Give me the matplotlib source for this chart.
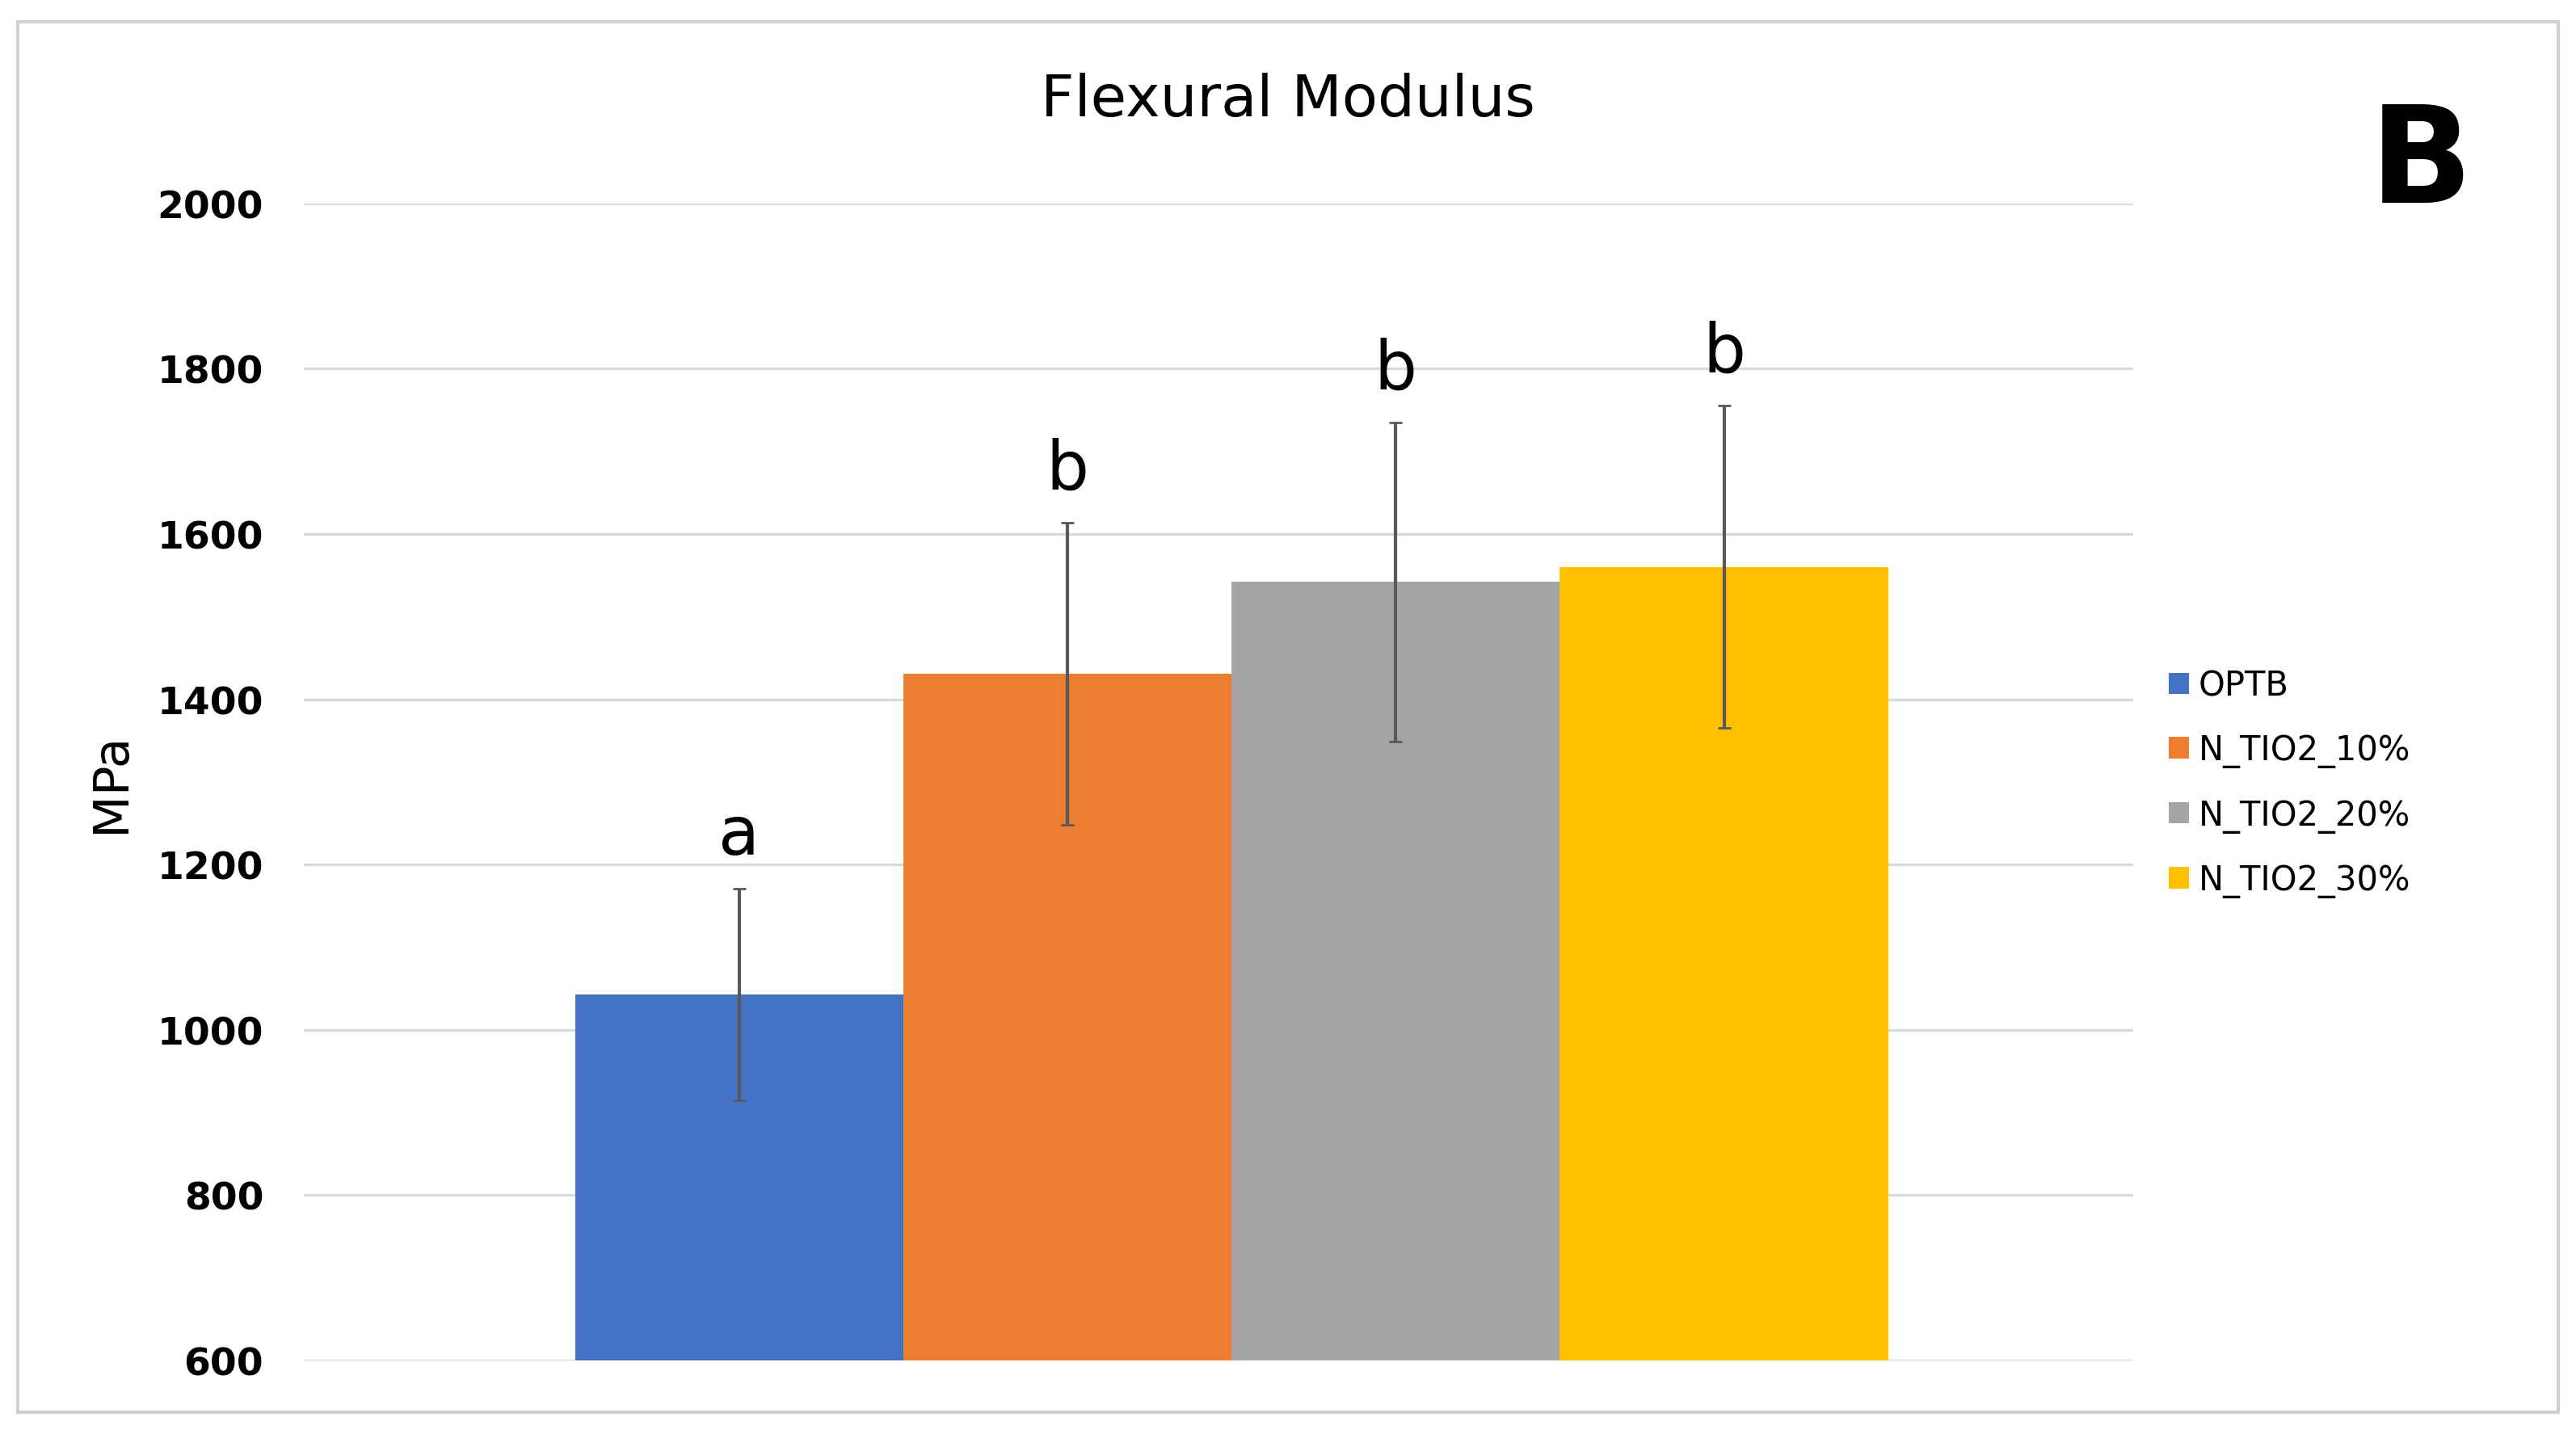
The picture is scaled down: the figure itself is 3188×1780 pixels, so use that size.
import matplotlib.pyplot as plt
from matplotlib.patches import Rectangle

labels = ["OPTB", "N_TIO2_10%", "N_TIO2_20%", "N_TIO2_30%"]
values = [1043, 1431, 1542, 1560]
errors = [128, 183, 193, 195]
letters = ["a", "b", "b", "b"]
colors = ["#4472C4", "#ED7D31", "#A5A5A5", "#FFC000"]

fig = plt.figure(figsize=(15.94, 8.905), dpi=200)
fig.patches.append(Rectangle((0.007, 0.018), 0.986, 0.966, transform=fig.transFigure,
                             fill=False, edgecolor="#d0d0d0", lw=1.5))
ax = fig.add_axes([0.118, 0.054, 0.71, 0.804])

width = 1.0
start = 0.826
for i, (v, e, c, lab) in enumerate(zip(values, errors, colors, labels)):
    x = start + width / 2 + i * width
    ax.bar(x, v - 600, width, bottom=600, color=c, label=lab, zorder=2)
    ax.errorbar(x, v, yerr=e, color="#595959", capsize=3, lw=1.5, zorder=3)
    ax.text(x, v + e + 25, letters[i], ha="center", va="bottom", fontsize=30)

ax.set_xlim(0, 5.572)
ax.set_ylim(600, 2000)
ax.set_yticks(range(600, 2001, 200))
ax.tick_params(axis="y", labelsize=17, length=0, pad=18)
for t in ax.get_yticklabels():
    t.set_fontweight("bold")
ax.set_xticks([])
ax.grid(axis="y", color="#d9d9d9", lw=1.2, zorder=0)
for s in ax.spines.values():
    s.set_visible(False)
ax.set_ylabel("MPa", fontsize=22, labelpad=10)

fig.text(0.5, 0.93, "Flexural Modulus", ha="center", va="center", fontsize=26)
fig.text(0.94, 0.885, "B", ha="center", va="center", fontsize=60, fontweight="bold")
fig.legend(loc="center left", bbox_to_anchor=(0.83, 0.455), frameon=False,
           fontsize=15, handlelength=0.6, handleheight=0.6, handletextpad=0.3,
           labelspacing=0.9)

fig.savefig("out.png", dpi=200)
